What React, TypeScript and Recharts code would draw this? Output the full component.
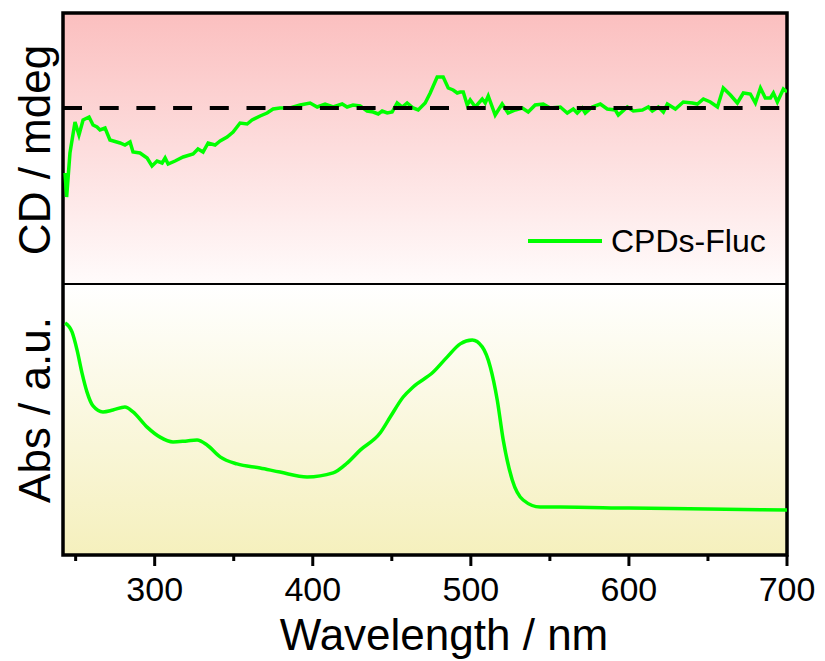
import { ComposedChart, Line, XAxis, YAxis, ReferenceArea, ReferenceLine, Legend, Label } from 'recharts';

// CD spectrum (wavelength in nm, CD in mdeg)
const cdWavelength = [
  243.3, 244.3, 246.4, 249.6, 252.1, 254.7, 258.5, 261, 263.5, 265.4, 268.6, 271.7, 278.1, 281.2, 284.4,
  286.3, 290.7, 295.2, 298.3, 301.5, 304.7, 306.6, 308.5, 312.9, 318, 324.3, 327.4, 330.6, 333.8, 338.2,
  341.4, 345.8, 349.6, 354, 358.5, 361.6, 366.7, 371.1, 374.9, 379.3, 385.6, 392, 398.3, 402.8, 407.8,
  412.9, 418.6, 421.7, 425.5, 430, 434.4, 438.2, 441.4, 443.9, 447.1, 450.2, 453.4, 456.6, 459.7, 463.5,
  466.7, 471.1, 474.3, 478.7, 482.5, 485.7, 488.8, 491.4, 493.3, 495.2, 497.7, 499.6, 502.8, 507.2, 509.1,
  511, 515.4, 519.8, 523.6, 528.1, 532.5, 536.3, 540.7, 545.8, 550.2, 556.6, 561, 564.8, 567.3, 570.5,
  572.4, 576.8, 581.9, 586.3, 591.4, 593.3, 599, 602.8, 608.5, 612.3, 614.8, 618.6, 621.8, 624.3, 629.4,
  634.4, 640.1, 643.3, 647.1, 651.5, 656, 659.7, 664.2, 668.6, 672.4, 676.8, 680, 683.2, 686.3, 689.5,
  691.4, 693.9, 697.7, 700,
];
const cdValues = [
  -6.5, -8.9, -4.5, -1.4, -2.7, -1.2, -0.9, -1.7, -1.9, -2.2, -2.0, -3.2, -3.5, -3.7, -3.4,
  -4.4, -4.5, -5.0, -5.8, -5.3, -5.5, -5.0, -5.6, -5.3, -4.9, -4.6, -4.1, -4.4, -3.5, -3.7,
  -3.3, -2.9, -2.4, -1.5, -1.6, -1.2, -0.8, -0.5, -0.1, 0, 0, 0.3, 0.5, 0.1, 0.4,
  0.1, 0.4, 0.1, 0.3, 0.2, -0.3, -0.4, -0.6, -0.3, -0.5, -0.4, 0.5, 0.1, 0.5, 0,
  -0.2, 0.5, 1.5, 3.1, 3.1, 2.0, 1.8, 1.5, 1.6, 1.6, 0.3, 0.8, 0.1, 0.9, 0.5,
  1.2, -0.7, 0.4, -0.5, -0.2, 0, -0.4, 0.3, 0.4, 0, 0.1, -0.5, -0.1, -0.5, 0,
  -0.5, 0.1, 0.4, -0.1, -0.2, -0.7, 0.1, -0.3, -0.2, 0.1, -0.3, 0.1, -0.4, 0.4, -0.1,
  0.6, 0.5, 0.4, 0.9, 0.6, 0.1, 2.0, 1.3, 0.5, 1.5, 1.4, 0.5, 2.0, 1.0, 1.0,
  1.5, 0.6, 1.9, 1.6,
];

// absorption spectrum (a.u.)
const absWavelength = [
  243.3, 247.7, 250.9, 254, 257.2, 261, 267.3, 273.6, 281.2, 286.3, 295.2, 303.4, 311.6, 320.5, 326.8,
  333.1, 341.4, 352.1, 366.7, 379.3, 396.4, 412.9, 421.7, 430, 442.6, 449, 457.2, 463.5, 476.2, 485.1,
  493.3, 500.9, 507.2, 512.3, 516.7, 520.5, 526.2, 533.1, 543.9, 556.6, 600, 650, 700,
];
const absValues = [
  0.856, 0.823, 0.756, 0.672, 0.601, 0.55, 0.528, 0.535, 0.546, 0.528, 0.472, 0.435, 0.417, 0.421, 0.424,
  0.406, 0.362, 0.336, 0.321, 0.306, 0.288, 0.303, 0.339, 0.387, 0.45, 0.509, 0.583, 0.62, 0.675, 0.731,
  0.779, 0.793, 0.768, 0.694, 0.572, 0.424, 0.277, 0.203, 0.177, 0.177, 0.173, 0.17, 0.166,
];

const xTicks = [250, 300, 350, 400, 450, 500, 550, 600, 650, 700];
const seriesName = 'CPDs-Fluc';

const cdData = cdWavelength.map((w, i) => ({ w, cd: cdValues[i] }));
const absData = absWavelength.map((w, i) => ({ w, abs: absValues[i] }));

const FONT = '"Liberation Sans", Arial, sans-serif';
const GREEN = '#00ff00';

const WaveTick = (props: any) => {
  const { x, y, payload } = props;
  const major = payload.value % 100 === 0;
  return (
    <g>
      <line x1={x} y1={y} x2={x} y2={y + (major ? 11 : 6)} stroke="#000" strokeWidth={3} />
      {major && (
        <text x={x} y={y + 46} textAnchor="middle" fontSize={34} fontFamily={FONT} fill="#000">
          {payload.value}
        </text>
      )}
    </g>
  );
};

const LegendBox = (props: any) => {
  const items = (props.payload || []).filter((p: any) => p.type !== 'none');
  return (
    <div style={{ fontFamily: FONT }}>
      {items.map((p: any) => (
        <div key={p.value} style={{ display: 'flex', alignItems: 'center' }}>
          <svg width={74} height={8}>
            <line x1={0} y1={4} x2={74} y2={4} stroke={p.color} strokeWidth={4} />
          </svg>
          <span style={{ fontSize: 32, marginLeft: 9, color: '#000', lineHeight: 1 }}>{p.value}</span>
        </div>
      ))}
    </div>
  );
};

const axisLabel = {
  position: 'absolute' as const,
  left: 35,
  transform: 'translate(-50%, -50%) rotate(-90deg)',
  fontSize: 44,
  lineHeight: 1,
  whiteSpace: 'nowrap' as const,
  fontFamily: FONT,
  color: '#000',
};

export default function App() {
  return (
    <div style={{ position: 'absolute', left: 0, top: 0, width: 825, height: 661, background: '#fff' }}>
      <ComposedChart width={825} height={661} margin={{ top: 13, right: 38, bottom: 0, left: 63 }}>
        <defs>
          <linearGradient id="pinkBg" x1="0" y1="0" x2="0" y2="1">
            <stop offset="0%" stopColor="#fbbfbf" />
            <stop offset="100%" stopColor="#fffbfb" />
          </linearGradient>
          <linearGradient id="yellowBg" x1="0" y1="0" x2="0" y2="1">
            <stop offset="0%" stopColor="#ffffff" />
            <stop offset="100%" stopColor="#f5f0bd" />
          </linearGradient>
        </defs>
        <XAxis
          dataKey="w"
          type="number"
          domain={[242, 700]}
          allowDataOverflow
          ticks={xTicks}
          axisLine={false}
          tickLine={false}
          tickSize={0}
          tickMargin={0}
          height={106}
          tick={<WaveTick />}
        >
          <Label value="Wavelength / nm" position="insideBottom" offset={11} dx={19} fontSize={44} fontFamily={FONT} fill="#000" />
        </XAxis>
        <YAxis yAxisId="cd" hide type="number" domain={[-44.7, 9.5]} allowDataOverflow />
        <YAxis yAxisId="abs" hide type="number" domain={[0, 2]} allowDataOverflow />

        <ReferenceArea yAxisId="cd" x1={242} x2={700} y1={-17.6} y2={9.5} fill="url(#pinkBg)" fillOpacity={1} stroke="none" ifOverflow="visible" />
        <ReferenceArea yAxisId="abs" x1={242} x2={700} y1={0} y2={1} fill="url(#yellowBg)" fillOpacity={1} stroke="none" ifOverflow="visible" />

        <Line
          yAxisId="cd"
          data={cdData}
          dataKey="cd"
          name={seriesName}
          type="linear"
          stroke={GREEN}
          strokeWidth={3.5}
          dot={false}
          activeDot={false}
          isAnimationActive={false}
        />
        <Line
          yAxisId="abs"
          data={absData}
          dataKey="abs"
          name="Abs"
          legendType="none"
          type="monotone"
          stroke={GREEN}
          strokeWidth={3.5}
          dot={false}
          activeDot={false}
          isAnimationActive={false}
        />

        <ReferenceLine yAxisId="cd" y={0} stroke="#000" strokeWidth={4} strokeDasharray="19 17.7" ifOverflow="visible" />
        <ReferenceLine yAxisId="abs" y={1} stroke="#000" strokeWidth={2} ifOverflow="visible" />
        <ReferenceArea yAxisId="abs" x1={242} x2={700} y1={0} y2={2} fill="none" stroke="#000" strokeWidth={3.5} ifOverflow="visible" />

        <Legend
          layout="horizontal"
          verticalAlign="middle"
          align="center"
          wrapperStyle={{ left: 528, top: 225, width: 270 }}
          content={<LegendBox />}
        />
      </ComposedChart>
      <div style={{ ...axisLabel, top: 150 }}>CD / mdeg</div>
      <div style={{ ...axisLabel, top: 410 }}>Abs / a.u.</div>
    </div>
  );
}
